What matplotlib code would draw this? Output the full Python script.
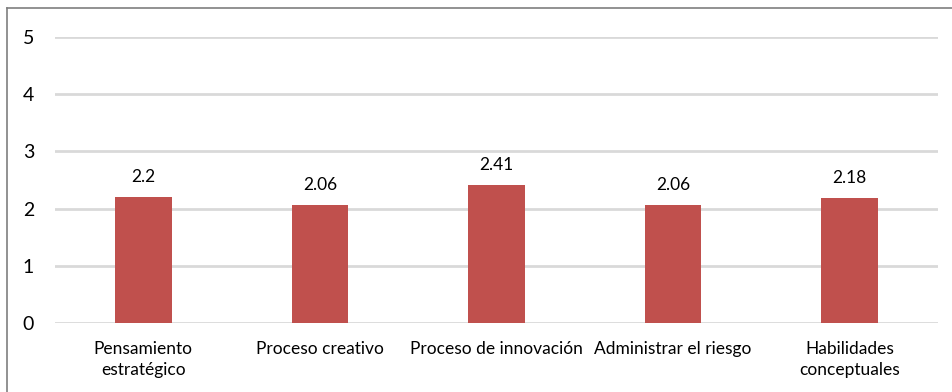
import matplotlib.pyplot as plt
from matplotlib.lines import Line2D

categories = ["Pensamiento\nestratégico", "Proceso creativo", "Proceso de innovación",
              "Administrar el riesgo", "Habilidades\nconceptuales"]
values = [2.2, 2.06, 2.41, 2.06, 2.18]
value_labels = ["2.2", "2.06", "2.41", "2.06", "2.18"]
yticks = [0, 1, 2, 3, 4, 5]

plt.rcParams['font.family'] = ['Lato', 'DejaVu Sans']

fig = plt.figure(figsize=(9.53, 3.92), dpi=100)
ax = fig.add_axes([55 / 953, 1 - 323 / 392, 883 / 953, 286 / 392])

x = range(len(categories))
bars = ax.bar(x, values, width=0.32, color="#C0504D", zorder=3)

for b, lab in zip(bars, value_labels):
    ax.annotate(lab, (b.get_x() + b.get_width() / 2, b.get_height()),
                xytext=(0, 9), textcoords="offset points",
                ha="center", va="bottom", fontsize=12.5, color="#000000")

ax.set_xlim(-0.5, len(categories) - 0.5)
ax.set_ylim(0, 5)
ax.set_yticks(yticks)
ax.set_yticklabels([str(t) for t in yticks], fontsize=14)
ax.set_xticks(list(x))
ax.set_xticklabels(categories, fontsize=12.5, linespacing=1.35)
ax.tick_params(axis="both", length=0, colors="#000000")
ax.tick_params(axis="y", pad=15)
ax.tick_params(axis="x", pad=13)

ax.grid(axis="y", color="#D9D9D9", linewidth=2, zorder=0)
for s in ax.spines.values():
    s.set_visible(False)

# outer chart border (top and left edges)
top = 1 - 8 / 392
left = 6.5 / 953
fig.add_artist(Line2D([left, 1], [top, top], color="#7F7F7F", linewidth=1.2))
fig.add_artist(Line2D([left, left], [0, top], color="#7F7F7F", linewidth=1.2))

fig.savefig("out.png", dpi=100)
